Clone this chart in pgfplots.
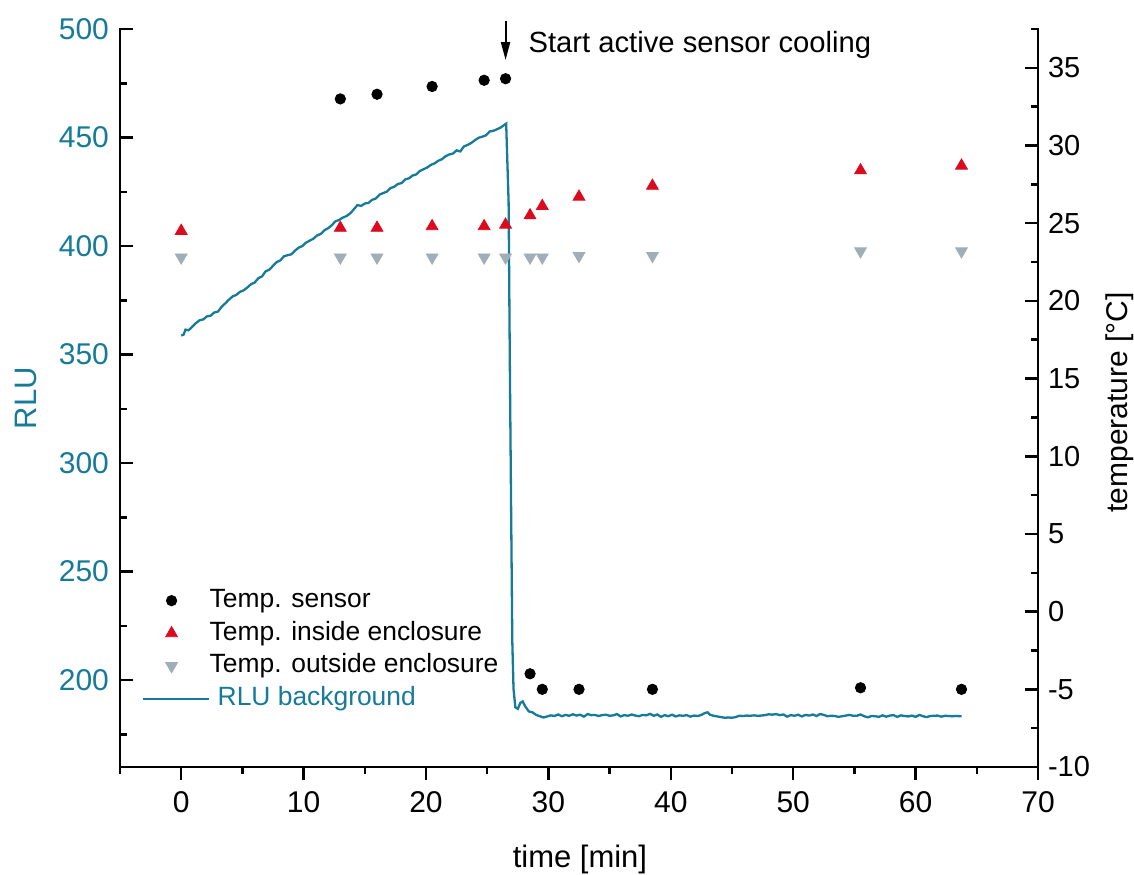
\documentclass[border=0pt]{standalone}
\usepackage{fontspec}
\setmainfont{Liberation Sans}
\usepackage{pgfplots}
\pgfplotsset{compat=1.18}
\usetikzlibrary{arrows.meta}

\definecolor{rlu}{RGB}{22,122,153}
\definecolor{tin}{RGB}{220,10,30}
\definecolor{tout}{RGB}{160,175,183}

% RLU background signal (left axis)
\pgfplotstableread{
t rlu
0.0 358.8
0.2 359.2
0.35 361.5
0.6 361.2
0.9 362.8
1.2 364.5
1.5 365.8
1.8 366.2
2.1 367.6
2.4 367.9
2.7 369.4
3.0 369.8
3.3 372.0
3.6 373.6
3.9 375.3
4.2 376.8
4.5 377.5
4.8 378.9
5.1 379.6
5.4 380.9
5.7 382.4
6.0 383.2
6.3 385.2
6.6 386.0
6.9 388.4
7.2 389.1
7.5 390.9
7.8 392.6
8.1 393.4
8.4 395.3
8.7 395.8
9.0 396.2
9.3 397.9
9.6 399.3
9.9 400.0
10.2 401.6
10.5 402.5
10.8 403.4
11.1 404.9
11.4 405.6
11.7 407.3
12.0 408.2
12.3 409.6
12.6 411.4
12.9 412.0
13.2 413.1
13.5 413.8
13.8 415.0
14.1 416.9
14.4 418.9
14.7 418.5
15.0 419.6
15.3 419.9
15.6 421.3
15.9 421.9
16.2 423.7
16.5 424.4
16.8 425.1
17.1 426.7
17.4 427.3
17.7 428.6
18.0 429.0
18.3 430.7
18.6 431.2
18.9 432.5
19.2 433.0
19.5 434.6
19.8 435.4
20.1 436.2
20.4 437.4
20.7 438.1
21.0 439.3
21.3 440.0
21.6 441.4
21.9 442.2
22.2 442.6
22.5 444.1
22.8 443.6
23.1 445.9
23.4 446.6
23.7 447.5
24.0 448.8
24.3 449.9
24.6 450.4
24.9 451.0
25.2 452.8
25.5 453.1
25.8 453.8
26.1 454.6
26.55 456.4
26.75 420.0
26.85 345.0
27.05 218.0
27.15 196.0
27.3 187.5
27.5 186.8
27.7 189.5
27.9 190.2
28.1 188.0
28.4 185.6
28.7 185.2
29.0 184.0
29.3 183.4
29.6 182.8
29.9 183.3
30.2 183.8
30.5 183.5
30.8 184.2
31.1 183.4
31.4 184.0
31.7 183.6
32.0 184.3
32.3 183.7
32.6 184.1
32.9 183.2
33.2 184.4
33.5 183.9
33.8 184.0
34.1 183.5
34.4 183.9
34.7 184.1
35.0 183.6
35.3 183.8
35.6 184.4
35.9 183.3
36.2 183.9
36.5 183.6
36.8 184.2
37.1 183.7
37.4 183.4
37.7 184.0
38.0 183.8
38.3 184.5
38.6 183.6
38.9 184.2
39.2 183.1
39.5 183.9
39.8 183.4
40.1 184.1
40.4 183.3
40.7 183.8
41.0 183.6
41.3 183.9
41.6 183.2
41.9 183.7
42.2 183.5
42.5 184.0
42.8 184.9
43.0 185.2
43.2 184.1
43.5 183.6
43.8 183.3
44.1 183.0
44.4 182.7
44.7 182.8
45.0 182.7
45.3 183.0
45.6 183.6
45.9 183.5
46.2 183.7
46.5 183.6
46.8 183.8
47.1 183.6
47.4 183.7
47.7 183.9
48.0 184.3
48.3 184.1
48.6 184.4
48.9 183.9
49.2 184.2
49.5 183.2
49.8 183.9
50.1 183.6
50.4 184.1
50.7 183.3
51.0 184.0
51.3 183.7
51.6 184.2
51.9 183.5
52.2 184.4
52.5 184.0
52.8 183.4
53.1 183.6
53.4 183.5
53.7 183.1
54.0 183.4
54.3 183.7
54.6 184.0
54.9 183.6
55.2 183.6
55.5 184.2
55.8 183.4
56.1 182.9
56.4 183.5
56.7 183.4
57.0 183.1
57.3 183.8
57.6 183.2
57.9 183.7
58.2 183.9
58.5 183.1
58.8 183.8
59.1 183.5
59.4 183.3
59.7 183.7
60.0 183.1
60.3 184.0
60.6 183.4
60.9 183.0
61.2 183.5
61.5 183.6
61.8 183.7
62.1 183.2
62.4 183.6
62.7 183.5
63.0 183.4
63.3 183.5
63.75 183.4
}\rludata

% Temperatures (right axis)
\pgfplotstableread{
t T
13.0 33.0
16.0 33.3
20.5 33.8
24.75 34.2
26.5 34.3
28.5 -4.0
29.5 -5.0
32.5 -5.0
38.5 -5.0
55.5 -4.9
63.75 -5.0
}\tsensor

\pgfplotstableread{
t T
0 24.5
13 24.7
16 24.7
20.5 24.8
24.75 24.8
26.5 24.9
28.5 25.5
29.5 26.1
32.5 26.7
38.5 27.4
55.5 28.4
63.75 28.7
}\tinside

\pgfplotstableread{
t T
0 22.8
13 22.8
16 22.8
20.5 22.8
24.75 22.8
26.5 22.8
28.5 22.8
29.5 22.8
32.5 22.9
38.5 22.9
55.5 23.2
63.75 23.2
}\toutside

\pgfplotsset{
  common/.style={
    scale only axis, width=459pt, height=369pt,
    xmin=-5, xmax=70,
    /pgf/number format/assume math mode=true,
    axis line style={black, line width=1.3pt, line cap=rect},
    major tick length=6.5pt, minor tick length=3.3pt,
    tick style={black, line width=1.25pt},
    clip=false,
  },
  % legend symbol: single mark, centred under the line sample
  markleg/.style={legend image code/.code={%
    \draw[mark repeat=2,mark phase=2,##1] plot coordinates {(0pt,0pt)(14.5pt,0pt)(29pt,0pt)};}},
  lineleg/.style={legend image code/.code={%
    \draw[##1] (0pt,0pt) -- (33pt,0pt);}},
}

\begin{document}
\begin{tikzpicture}
% bottom time axis
\begin{axis}[common, ymin=0, ymax=1,
  axis x line*=bottom, axis y line=none, tick align=outside,
  xtick={0,10,...,70}, minor xtick={-5,5,...,65},
  xticklabel style={font=\fontsize{15}{18}\selectfont, yshift=-2pt},
  xlabel={time [min]},
  xlabel style={font=\fontsize{15.5}{18}\selectfont,
    at={(axis description cs:0.501,-0.1355)}, anchor=base},
]
\end{axis}

% left axis: RLU
\begin{axis}[common, ymin=160, ymax=500,
  axis x line=none, axis y line*=left, tick align=inside,
  ytick={200,250,...,500}, minor ytick={175,225,...,475},
  yticklabel style={font=\fontsize{15}{18}\selectfont, text=rlu, xshift=-2pt},
  ylabel={RLU},
  ylabel style={font=\fontsize{15.5}{18}\selectfont, text=rlu,
    at={(axis description cs:-0.1029,0.5)}, anchor=center},
]
\addplot[rlu, line width=1.15pt, mark=none] table[x=t, y=rlu] {\rludata};
\draw[black, line width=1pt, -{Triangle[length=9pt,width=4.5pt]}]
  (axis cs:26.5,503.7) -- (axis cs:26.5,485.7);
\node[anchor=base west, inner sep=0pt, font=\fontsize{14.6}{17}\selectfont]
  at (axis cs:28.35,489.2) {Start active sensor cooling};
\end{axis}

% right axis: temperature
\begin{axis}[common, ymin=-10, ymax=37.5,
  axis x line=none, axis y line*=right, tick align=inside,
  ytick={-10,-5,...,35}, minor ytick={-7.5,-2.5,...,37.5},
  yticklabel style={font=\fontsize{14.5}{17}\selectfont, xshift=1.5pt},
  ylabel={temperature [°C]},
  ylabel style={font=\fontsize{15}{18}\selectfont,
    at={(axis description cs:1.0893,0.494)}, anchor=center},
  legend cell align=left,
  legend style={at={(axis description cs:0.0229,0.2481)}, anchor=north west,
    draw=none, fill=none, inner sep=0pt, column sep=0pt, row sep=0pt,
    nodes={inner xsep=0pt, inner ysep=1.97pt, text height=9.6pt, text depth=2.8pt,
      font=\fontsize{13.2}{15}\selectfont}},
]
\addplot[only marks, mark=*, mark size=2.6pt, black, markleg]
  table[x=t, y=T] {\tsensor};
\addlegendentry{Temp. sensor}
\addplot[only marks, mark=triangle*, mark size=3.4pt, color=tin, markleg]
  table[x=t, y=T] {\tinside};
\addlegendentry{Temp. inside enclosure}
\addplot[only marks, mark=triangle*, mark size=3.4pt, mark options={rotate=180}, color=tout, markleg]
  table[x=t, y=T] {\toutside};
\addlegendentry{Temp. outside enclosure}
\addlegendimage{rlu, line width=1.15pt, lineleg}
\addlegendentry{\hspace{4pt}\textcolor{rlu}{RLU background}}
\end{axis}

\pgfresetboundingbox
\useasboundingbox (-60pt,-53.5pt) rectangle (507pt,383.5pt);
\end{tikzpicture}
\end{document}
